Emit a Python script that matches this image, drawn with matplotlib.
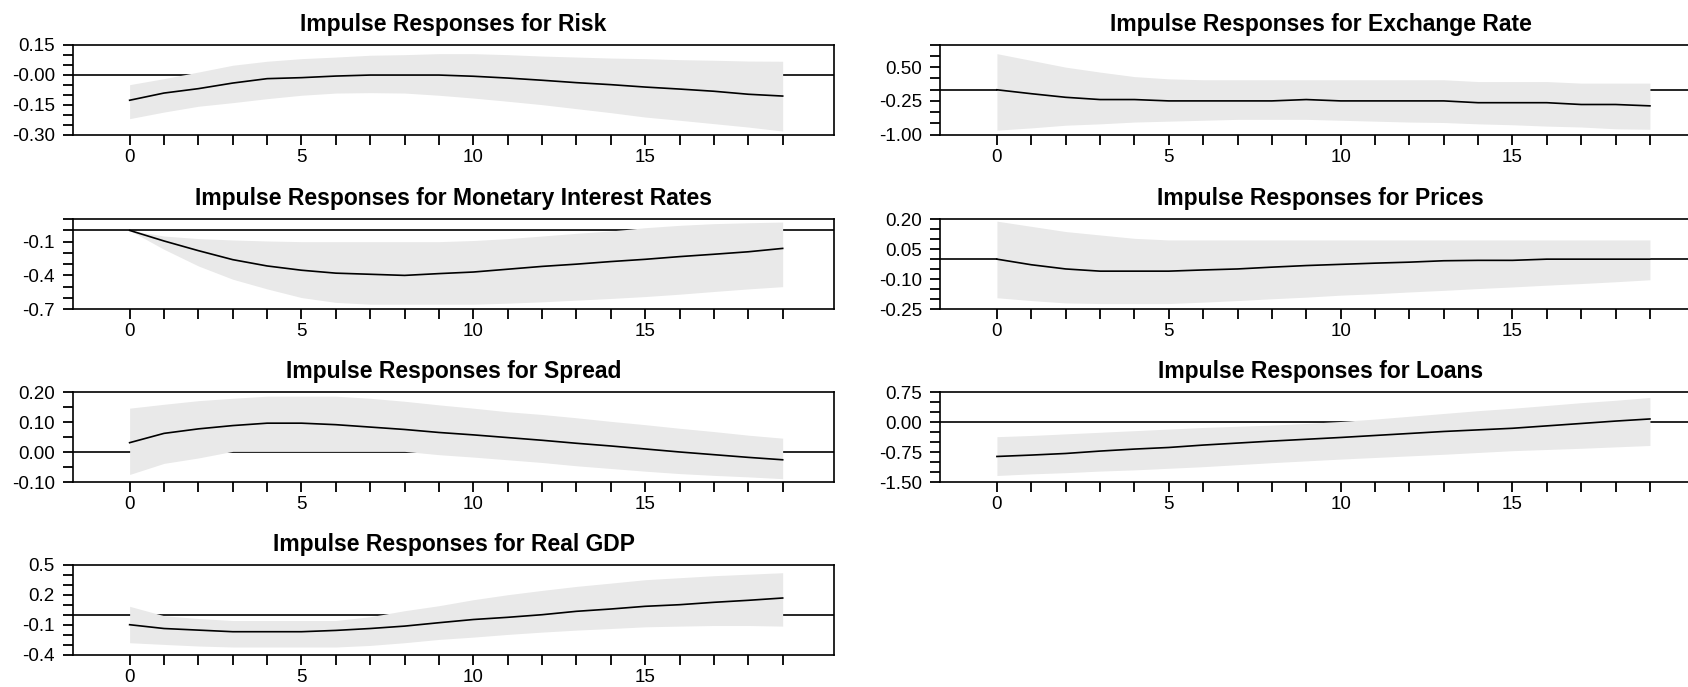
import matplotlib
matplotlib.use('Agg')
from matplotlib import pyplot as plt
from matplotlib.ticker import FixedLocator, FixedFormatter
import numpy as np

plt.rcParams['font.family'] = ['Liberation Sans', 'DejaVu Sans']

horizon = list(range(20))

# point estimates and bands
risk_mid = [-0.128, -0.092, -0.07, -0.042, -0.02, -0.015, -0.007, -0.002, -0.002, -0.002,
            -0.008, -0.017, -0.028, -0.04, -0.05, -0.062, -0.072, -0.083, -0.098, -0.107]
risk_hi = [-0.05, -0.02, 0.013, 0.047, 0.067, 0.08, 0.088, 0.097, 0.1, 0.105,
           0.105, 0.1, 0.093, 0.088, 0.083, 0.08, 0.075, 0.072, 0.068, 0.067]
risk_lo = [-0.22, -0.187, -0.158, -0.14, -0.12, -0.103, -0.092, -0.09, -0.092, -0.103,
           -0.117, -0.133, -0.15, -0.17, -0.19, -0.212, -0.228, -0.245, -0.262, -0.282]

fx_mid = [-0.003, -0.09, -0.17, -0.22, -0.22, -0.25, -0.25, -0.25, -0.25, -0.22,
          -0.25, -0.25, -0.25, -0.25, -0.29, -0.29, -0.29, -0.33, -0.33, -0.36]
fx_hi = [0.80, 0.65, 0.50, 0.39, 0.29, 0.24, 0.22, 0.22, 0.22, 0.22,
         0.22, 0.22, 0.22, 0.22, 0.18, 0.18, 0.18, 0.145, 0.145, 0.145]
fx_lo = [-0.90, -0.85, -0.79, -0.76, -0.72, -0.70, -0.68, -0.66, -0.66, -0.66,
         -0.68, -0.70, -0.72, -0.73, -0.76, -0.78, -0.81, -0.83, -0.87, -0.88]

mon_mid = [0.0, -0.094, -0.18, -0.26, -0.316, -0.354, -0.38, -0.39, -0.40, -0.384,
           -0.37, -0.345, -0.32, -0.30, -0.277, -0.257, -0.233, -0.212, -0.19, -0.16]
mon_hi = [0.0, -0.05, -0.073, -0.085, -0.094, -0.1, -0.1, -0.1, -0.1, -0.1,
          -0.09, -0.073, -0.05, -0.026, -0.005, 0.024, 0.045, 0.06, 0.068, 0.074]
mon_lo = [0.0, -0.168, -0.316, -0.434, -0.52, -0.597, -0.64, -0.656, -0.656, -0.656,
          -0.656, -0.647, -0.635, -0.62, -0.605, -0.588, -0.567, -0.543, -0.52, -0.5]

price_mid = [0.0, -0.028, -0.049, -0.06, -0.06, -0.06, -0.054, -0.049, -0.04, -0.032,
             -0.026, -0.02, -0.015, -0.008, -0.006, -0.006, 0.0, 0.0, 0.0, 0.0]
price_hi = [0.19, 0.164, 0.138, 0.121, 0.104, 0.096, 0.096, 0.096, 0.096, 0.096,
            0.096, 0.096, 0.096, 0.096, 0.096, 0.096, 0.096, 0.096, 0.096, 0.096]
price_lo = [-0.193, -0.207, -0.219, -0.222, -0.222, -0.222, -0.215, -0.207, -0.198, -0.19,
            -0.18, -0.173, -0.164, -0.156, -0.147, -0.139, -0.13, -0.122, -0.113, -0.103]

spread_mid = [0.032, 0.063, 0.078, 0.089, 0.097, 0.097, 0.092, 0.084, 0.076, 0.066,
              0.058, 0.049, 0.04, 0.03, 0.021, 0.011, 0.001, -0.008, -0.017, -0.025]
spread_hi = [0.147, 0.16, 0.172, 0.18, 0.187, 0.187, 0.187, 0.18, 0.17, 0.158,
             0.147, 0.135, 0.126, 0.115, 0.103, 0.092, 0.08, 0.069, 0.057, 0.047]
spread_lo = [-0.074, -0.037, -0.019, 0.003, 0.003, 0.003, 0.003, 0.003, 0.003, -0.008,
             -0.016, -0.025, -0.034, -0.045, -0.054, -0.063, -0.071, -0.077, -0.082, -0.088]

loans_mid = [-0.855, -0.82, -0.78, -0.72, -0.67, -0.63, -0.57, -0.52, -0.47, -0.425,
             -0.38, -0.33, -0.28, -0.23, -0.19, -0.15, -0.09, -0.03, 0.03, 0.083]
loans_hi = [-0.36, -0.33, -0.29, -0.25, -0.21, -0.17, -0.13, -0.10, -0.07, -0.03,
            0.02, 0.08, 0.15, 0.22, 0.29, 0.35, 0.42, 0.49, 0.55, 0.62]
loans_lo = [-1.33, -1.29, -1.26, -1.22, -1.19, -1.15, -1.11, -1.06, -1.01, -0.965,
            -0.92, -0.88, -0.84, -0.80, -0.755, -0.71, -0.68, -0.65, -0.615, -0.58]

gdp_mid = [-0.1, -0.138, -0.154, -0.17, -0.17, -0.17, -0.157, -0.138, -0.114, -0.08,
           -0.048, -0.026, 0.0, 0.034, 0.057, 0.084, 0.1, 0.124, 0.144, 0.167]
gdp_hi = [0.084, -0.01, -0.038, -0.058, -0.058, -0.058, -0.058, -0.02, 0.04, 0.09,
          0.15, 0.2, 0.243, 0.283, 0.316, 0.35, 0.37, 0.39, 0.405, 0.42]
gdp_lo = [-0.28, -0.297, -0.313, -0.323, -0.323, -0.323, -0.323, -0.307, -0.28, -0.247,
          -0.224, -0.197, -0.174, -0.154, -0.138, -0.121, -0.114, -0.108, -0.108, -0.114]

titles = ['Risk', 'Exchange Rate', 'Monetary Interest Rates', 'Prices',
          'Spread', 'Loans', 'Real GDP']
mids = [risk_mid, fx_mid, mon_mid, price_mid, spread_mid, loans_mid, gdp_mid]
his = [risk_hi, fx_hi, mon_hi, price_hi, spread_hi, loans_hi, gdp_hi]
los = [risk_lo, fx_lo, mon_lo, price_lo, spread_lo, loans_lo, gdp_lo]

ylims = [(-0.30, 0.15), (-1.0, 1.0), (-0.7, 0.1), (-0.25, 0.20),
         (-0.10, 0.20), (-1.5, 0.75), (-0.4, 0.5)]
yticks = [[0.15, 0.0, -0.15, -0.30], [0.5, -0.25, -1.0], [-0.1, -0.4, -0.7],
          [0.20, 0.05, -0.10, -0.25], [0.20, 0.10, 0.0, -0.10],
          [0.75, 0.0, -0.75, -1.5], [0.5, 0.2, -0.1, -0.4]]
ylabels = [['0.15', '-0.00', '-0.15', '-0.30'], ['0.50', '-0.25', '-1.00'],
           ['-0.1', '-0.4', '-0.7'], ['0.20', '0.05', '-0.10', '-0.25'],
           ['0.20', '0.10', '0.00', '-0.10'], ['0.75', '0.00', '-0.75', '-1.50'],
           ['0.5', '0.2', '-0.1', '-0.4']]
ysteps = [0.05, 0.25, 0.1, 0.05, 0.05, 0.25, 0.1]

fig = plt.figure(figsize=(16.88, 6.87), dpi=100)

w = 0.451
h = 0.131
lefts = [0.0432, 0.557]
bottoms = [0.804, 0.550, 0.298, 0.047]

for i in range(7):
    row, col = i // 2, i % 2
    ax = fig.add_axes([lefts[col], bottoms[row], w, h])
    ax.axhline(0, color='black', lw=1.2, zorder=1)
    ax.fill_between(horizon, los[i], his[i], color='#e9e9e9', lw=0, zorder=2)
    ax.plot(horizon, mids[i], color='black', lw=1.2, zorder=3)
    ax.set_xlim(-1.65, 20.5)
    lo, hi = ylims[i]
    ax.set_ylim(lo, hi)
    ax.set_xticks([0, 5, 10, 15])
    ax.set_xticks(horizon, minor=True)
    ax.yaxis.set_major_locator(FixedLocator(yticks[i]))
    ax.yaxis.set_major_formatter(FixedFormatter(ylabels[i]))
    ax.yaxis.set_minor_locator(FixedLocator(np.arange(lo, hi + 1e-9, ysteps[i])))
    ax.tick_params(which='both', direction='out', length=7, width=1.3, colors='black',
                   labelsize=13.5)
    ax.tick_params(axis='y', which='both', pad=6)
    ax.tick_params(axis='x', which='both', pad=3)
    for s in ax.spines.values():
        s.set_linewidth(1.2)
    ax.set_title('Impulse Responses for ' + titles[i], fontsize=16.5,
                 fontweight='bold', pad=10)

fig.savefig('out.png', dpi=100)
